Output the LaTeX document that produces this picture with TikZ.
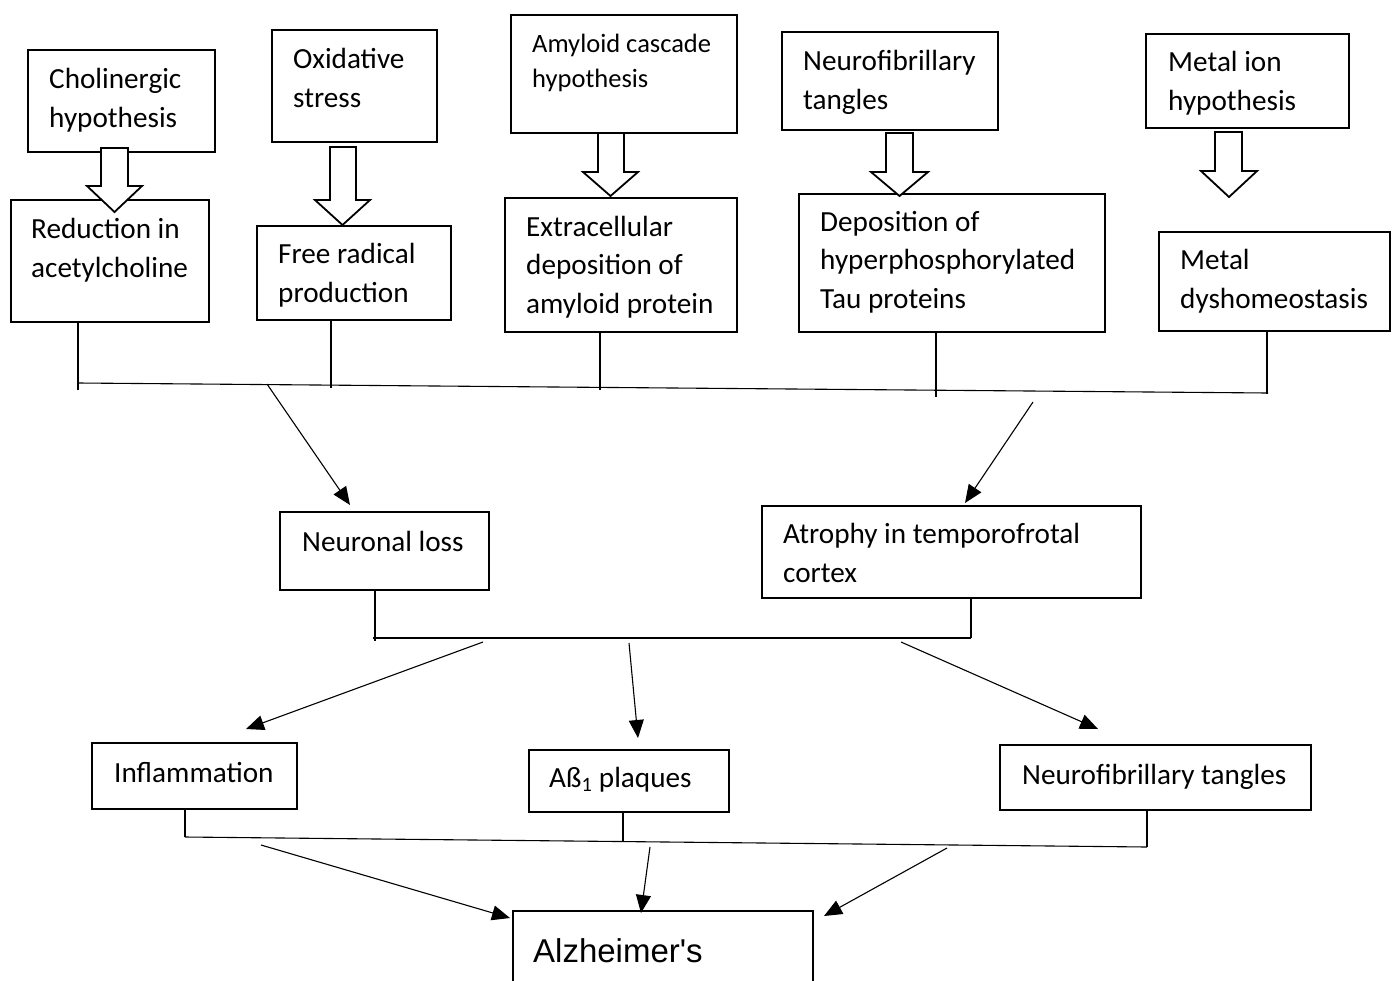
\documentclass[tikz,border=0pt]{standalone}
\usepackage{fontspec}
\setmainfont{Carlito}
\newfontfamily\arialf{Liberation Sans}
\usetikzlibrary{arrows.meta}
\begin{document}
\begin{tikzpicture}[x=1pt,y=-1pt,
  box/.style={draw, line width=1.8pt, inner sep=0pt},
  txt/.style={anchor=base west, align=left, inner sep=0pt, font=\fontsize{29.2}{38.5}\selectfont},
  smalltxt/.style={txt, font=\fontsize{26.5}{35}\selectfont},
  hol/.style={draw, line width=1.8pt, fill=white, line join=miter},
  ln/.style={line width=1.1pt},
  arr/.style={line width=1.1pt, -{Triangle[length=18pt,width=15pt]}}]
\useasboundingbox (0,0) rectangle (1392,980);
\fill[white] (0,0) rectangle (1392,980);

% top row
\node[box, minimum width=187pt, minimum height=102pt] (c1) at (121.5,101) {};
\node[box, minimum width=165pt, minimum height=112pt] (c2) at (354.5,86) {};
\node[box, minimum width=226pt, minimum height=118pt] (c3) at (624,74) {};
\node[box, minimum width=216pt, minimum height=98pt] (c4) at (890,81) {};
\node[box, minimum width=203pt, minimum height=94pt] (c5) at (1247.5,81) {};
\node[txt] (t1) at (49,127) {Cholinergic\\hypothesis};
\node[txt] (t2) at (293,107) {Oxidative\\stress};
\node[smalltxt] (t3) at (532,87) {Amyloid cascade\\hypothesis};
\node[txt] (t4) at (803,109) {Neurofibrillary\\tangles};
\node[txt] (t5) at (1168,110) {Metal ion\\hypothesis};

% second row
\node[box, minimum width=198pt, minimum height=122pt] (r1) at (110,261) {};
\node[box, minimum width=194pt, minimum height=94pt] (r2) at (354,273) {};
\node[box, minimum width=232pt, minimum height=134pt] (r3) at (621,265) {};
\node[box, minimum width=306pt, minimum height=138pt] (r4) at (952,263) {};
\node[box, minimum width=231pt, minimum height=99pt] (r5) at (1274.5,281.5) {};
\node[txt] (u1) at (31,277) {Reduction in\\acetylcholine};
\node[txt] (u2) at (278,302) {Free radical\\production};
\node[txt] (u3) at (526,313) {Extracellular\\deposition of\\amyloid protein};
\node[txt] (u4) at (820,308) {Deposition of\\hyperphosphorylated\\Tau proteins};
\node[txt] (u5) at (1180,308) {Metal\\dyshomeostasis};

% hollow arrows
\draw[hol] (101,148) -- (101,186) -- (87,186) -- (114.5,212) -- (142,186) -- (128,186) -- (128,148) -- cycle;
\draw[hol] (330,147) -- (330,200) -- (315,200) -- (342.5,225) -- (370,200) -- (356,200) -- (356,147) -- cycle;
\draw[hol] (598,133) -- (598,172) -- (583,172) -- (610.5,196) -- (638,172) -- (624,172) -- (624,133) -- cycle;
\draw[hol] (886,133) -- (886,172) -- (871,172) -- (899.5,196) -- (928,172) -- (913,172) -- (913,133) -- cycle;
\draw[hol] (1215,132) -- (1215,171) -- (1201,171) -- (1229,197) -- (1257,171) -- (1242,171) -- (1242,132) -- cycle;

% first bus
\coordinate (b1a) at (78,383);
\coordinate (b1e) at (1268,393);
\coordinate (k1) at (78,390);
\coordinate (k2) at (331,388);
\coordinate (k3) at (600,390);
\coordinate (k4) at (936,397);
\coordinate (k5) at (1267,394);
\draw[ln] (b1a) -- (b1e);
\draw[ln] (r1.south -| k1) -- (k1);
\draw[ln] (r2.south -| k2) -- (k2);
\draw[ln] (r3.south -| k3) -- (k3);
\draw[ln] (r4.south -| k4) -- (k4);
\draw[ln] (r5.south -| k5) -- (k5);

% middle boxes
\node[box, minimum width=209pt, minimum height=78pt] (m1) at (384.5,551) {};
\node[box, minimum width=379pt, minimum height=92pt] (m2) at (951.5,552) {};
\node[txt] (v1) at (302,551) {Neuronal loss};
\node[txt] (v2) at (783,582) {Atrophy in temporofrotal\\cortex};

\coordinate (a1s) at (267,384);
\coordinate (a1e) at (350,505);
\coordinate (a2s) at (1033,402);
\coordinate (a2e) at (965,503);
\draw[arr] (a1s) -- (a1e);
\draw[arr] (a2s) -- (a2e);

% second bus
\coordinate (b2a) at (373,638);
\coordinate (b2e) at (971,638);
\coordinate (k6) at (375,641);
\draw[ln] (b2a) -- (b2e);
\draw[ln] (m1.south -| k6) -- (k6);
\draw[ln] (m2.south -| b2e) -- (b2e);

% lower boxes
\node[box, minimum width=205pt, minimum height=66pt] (l1) at (194.5,776) {};
\node[box, minimum width=200pt, minimum height=62pt] (l2) at (629,781) {};
\node[box, minimum width=311pt, minimum height=65pt] (l3) at (1155.5,777.5) {};
\node[txt] (w1) at (114,782) {Inflammation};
\node[txt] (w2) at (549,787) {Aß\textsubscript{1} plaques};
\node[txt] (w3) at (1022,784) {Neurofibrillary tangles};

\coordinate (a3s) at (483,642);
\coordinate (a3e) at (246,729);
\coordinate (a4s) at (629,643);
\coordinate (a4e) at (638,738);
\coordinate (a5s) at (901,642);
\coordinate (a5e) at (1098,729);
\draw[arr] (a3s) -- (a3e);
\draw[arr] (a4s) -- (a4e);
\draw[arr] (a5s) -- (a5e);

% third bus
\coordinate (b3a) at (185,837);
\coordinate (b3e) at (1147,847);
\coordinate (k8) at (623,841);
\draw[ln] (b3a) -- (b3e);
\draw[ln] (l1.south -| b3a) -- (b3a);
\draw[ln] (l2.south -| k8) -- (k8);
\draw[ln] (l3.south -| b3e) -- (b3e);

% final box
\node[box, minimum width=300pt, minimum height=100pt] (alz) at (663,961) {};
\node[anchor=base west, inner sep=0pt, font=\arialf\fontsize{33}{40}\selectfont] (z) at (533,962) {Alzheimer's};

\coordinate (a6s) at (261,845);
\coordinate (a6e) at (510,918);
\coordinate (a7s) at (650,847);
\coordinate (a7e) at (641,913);
\coordinate (a8s) at (947,848);
\coordinate (a8e) at (824,916);
\draw[arr] (a6s) -- (a6e);
\draw[arr] (a7s) -- (a7e);
\draw[arr] (a8s) -- (a8e);
\end{tikzpicture}
\end{document}
